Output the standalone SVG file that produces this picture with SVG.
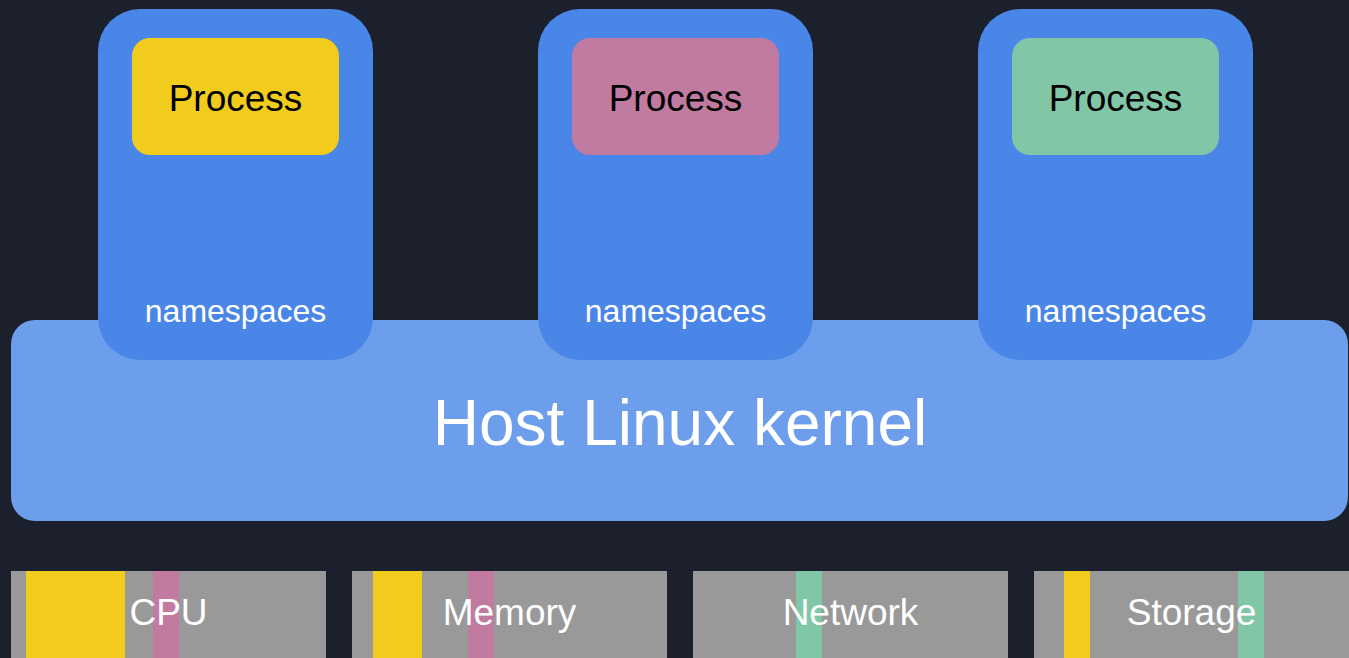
<svg xmlns="http://www.w3.org/2000/svg" width="1349" height="658" viewBox="0 0 1349 658">
<style>
.ns{fill:#4a86e8}
.proc-t{font-family:"Liberation Sans",Arial,sans-serif;font-size:37px;fill:#000;text-anchor:middle}
.ns-t{font-family:"Liberation Sans",Arial,sans-serif;font-size:32px;fill:#fff;text-anchor:middle}
.k-t{font-family:"Liberation Sans",Arial,sans-serif;font-size:64px;fill:#fff;text-anchor:middle}
.res{fill:#999999}
.res-t{font-family:"Liberation Sans",Arial,sans-serif;font-size:37px;fill:#fff;text-anchor:middle}
.y{fill:#f1cc1c}.p{fill:#c27ba0}.g{fill:#81c7a7}
</style>
<rect width="1349" height="658" fill="#1b202c"/>
<g id="kernel">
<rect x="11" y="320" width="1337" height="201" rx="24" fill="#6d9eeb"/>
<text class="k-t" x="680" y="445">Host Linux kernel</text>
</g>
<g id="ns1">
<rect class="ns" x="98" y="9" width="275" height="351" rx="42"/>
<rect class="y" x="132" y="38" width="207" height="117" rx="18"/>
<text class="proc-t" x="235.5" y="111">Process</text>
<text class="ns-t" x="235.5" y="322">namespaces</text>
</g>
<g id="ns2">
<rect class="ns" x="538" y="9" width="275" height="351" rx="42"/>
<rect class="p" x="572" y="38" width="207" height="117" rx="18"/>
<text class="proc-t" x="675.5" y="111">Process</text>
<text class="ns-t" x="675.5" y="322">namespaces</text>
</g>
<g id="ns3">
<rect class="ns" x="978" y="9" width="275" height="351" rx="42"/>
<rect class="g" x="1012" y="38" width="207" height="117" rx="18"/>
<text class="proc-t" x="1115.5" y="111">Process</text>
<text class="ns-t" x="1115.5" y="322">namespaces</text>
</g>
<g id="cpu">
<rect class="res" x="11" y="571" width="315" height="87"/>
<rect class="y" x="26" y="571" width="99" height="87"/>
<rect class="p" x="153" y="571" width="26" height="87"/>
<text class="res-t" x="168.5" y="625">CPU</text>
</g>
<g id="memory">
<rect class="res" x="352" y="571" width="315" height="87"/>
<rect class="y" x="373" y="571" width="49" height="87"/>
<rect class="p" x="468" y="571" width="26" height="87"/>
<text class="res-t" x="509.5" y="625">Memory</text>
</g>
<g id="network">
<rect class="res" x="693" y="571" width="315" height="87"/>
<rect class="g" x="796" y="571" width="26" height="87"/>
<text class="res-t" x="850.5" y="625">Network</text>
</g>
<g id="storage">
<rect class="res" x="1034" y="571" width="315" height="87"/>
<rect class="y" x="1064" y="571" width="26" height="87"/>
<rect class="g" x="1238" y="571" width="26" height="87"/>
<text class="res-t" x="1191.5" y="625">Storage</text>
</g>
<g id="connectors"></g>
</svg>
